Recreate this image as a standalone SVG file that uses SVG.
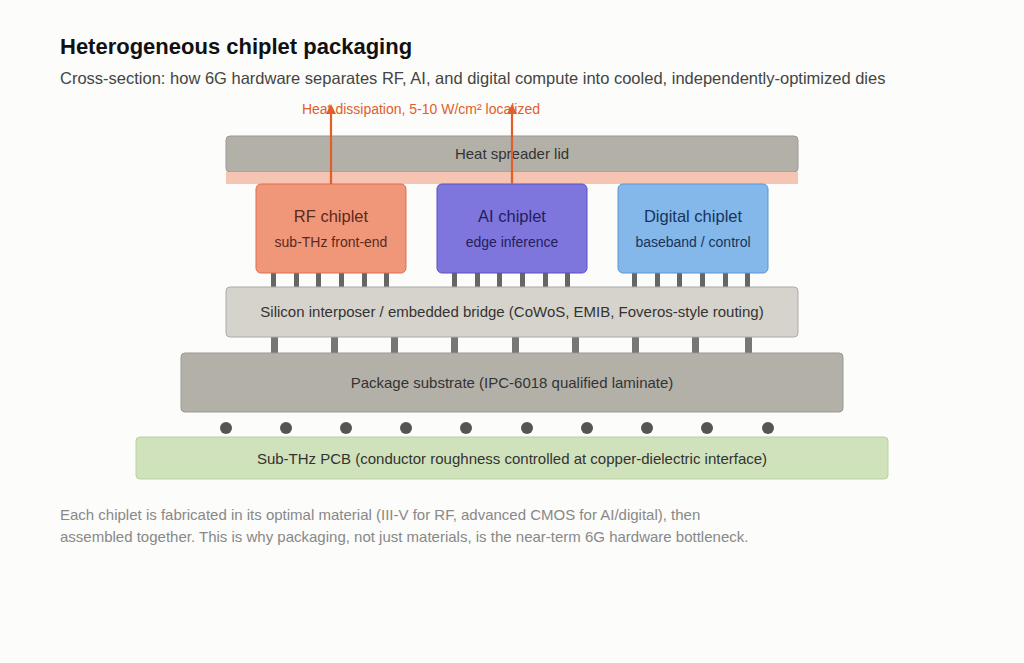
<svg xmlns="http://www.w3.org/2000/svg" width="1024" height="663" viewBox="0 0 1024 663">
<defs>
<style>
text{font-family:"Liberation Sans",Arial,sans-serif}
.lbl{font-size:15px;fill:#333;text-anchor:middle}
.bump{fill:#666}
.title{font-size:16.5px;text-anchor:middle}
.sub{font-size:14px;text-anchor:middle}
</style>
<marker id="ah" markerWidth="10" markerHeight="10" refX="5" refY="5" orient="auto" markerUnits="userSpaceOnUse"><path d="M0,0 L10,5 L0,10 z" fill="#e0602c"/></marker>
</defs>
<rect width="1024" height="663" fill="#fcfcfa"/>
<text x="60" y="54" font-size="22" font-weight="bold" fill="#111">Heterogeneous chiplet packaging</text>
<text x="60" y="84" font-size="16.5" fill="#444">Cross-section: how 6G hardware separates RF, AI, and digital compute into cooled, independently-optimized dies</text>
<g id="lid"><rect x="226" y="136" width="572" height="36" rx="4" fill="#b3b0a8" stroke="#999" stroke-width="1"/><text class="lbl" x="512" y="159">Heat spreader lid</text></g>
<rect id="tim" x="226" y="172" width="572" height="12" fill="#f5c4b2"/>
<g id="bumps">
<g class="bump">
<rect x="271" y="273" width="5" height="14"/><rect x="294" y="273" width="5" height="14"/><rect x="316" y="273" width="5" height="14"/><rect x="339" y="273" width="5" height="14"/><rect x="362" y="273" width="5" height="14"/><rect x="384" y="273" width="5" height="14"/>
<rect x="452" y="273" width="5" height="14"/><rect x="475" y="273" width="5" height="14"/><rect x="497" y="273" width="5" height="14"/><rect x="520" y="273" width="5" height="14"/><rect x="543" y="273" width="5" height="14"/><rect x="565" y="273" width="5" height="14"/>
<rect x="632" y="273" width="5" height="14"/><rect x="655" y="273" width="5" height="14"/><rect x="677" y="273" width="5" height="14"/><rect x="700" y="273" width="5" height="14"/><rect x="723" y="273" width="5" height="14"/><rect x="745" y="273" width="5" height="14"/>
</g>
<g fill="#777">
<rect x="271" y="337" width="7" height="16"/><rect x="331" y="337" width="7" height="16"/><rect x="391" y="337" width="7" height="16"/><rect x="451" y="337" width="7" height="16"/><rect x="512" y="337" width="7" height="16"/><rect x="572" y="337" width="7" height="16"/><rect x="632" y="337" width="7" height="16"/><rect x="692" y="337" width="7" height="16"/><rect x="745" y="337" width="7" height="16"/>
</g>
<g fill="#555">
<circle cx="226" cy="428" r="6"/><circle cx="286" cy="428" r="6"/><circle cx="346" cy="428" r="6"/><circle cx="406" cy="428" r="6"/><circle cx="466" cy="428" r="6"/><circle cx="527" cy="428" r="6"/><circle cx="587" cy="428" r="6"/><circle cx="647" cy="428" r="6"/><circle cx="707" cy="428" r="6"/><circle cx="768" cy="428" r="6"/>
</g>
</g>
<g id="rf"><rect x="256" y="184" width="150" height="89" rx="5" fill="#f0977a" stroke="#d9704e"/><text class="title" x="331" y="222" fill="#5a2a1a">RF chiplet</text><text class="sub" x="331" y="247" fill="#5a2a1a">sub-THz front-end</text></g>
<g id="ai"><rect x="437" y="184" width="150" height="89" rx="5" fill="#7f76dd" stroke="#5a4fc0"/><text class="title" x="512" y="222" fill="#231d5c">AI chiplet</text><text class="sub" x="512" y="247" fill="#231d5c">edge inference</text></g>
<g id="digital"><rect x="618" y="184" width="150" height="89" rx="5" fill="#84b7ea" stroke="#5a95d4"/><text class="title" x="693" y="222" fill="#16345c">Digital chiplet</text><text class="sub" x="693" y="247" fill="#16345c">baseband / control</text></g>
<g id="interposer"><rect x="226" y="287" width="572" height="50" rx="4" fill="#d5d3cb" stroke="#aaa"/><text class="lbl" x="512" y="317">Silicon interposer / embedded bridge (CoWoS, EMIB, Foveros-style routing)</text></g>
<g id="substrate"><rect x="181" y="353" width="662" height="59" rx="4" fill="#b3b0a8" stroke="#999"/><text class="lbl" x="512" y="388">Package substrate (IPC-6018 qualified laminate)</text></g>
<g id="pcb"><rect x="136" y="437" width="752" height="42" rx="4" fill="#d0e2bb" stroke="#b6d39c"/><text class="lbl" x="512" y="464" fill="#2a3d1a">Sub-THz PCB (conductor roughness controlled at copper-dielectric interface)</text></g>
<g id="connectors" stroke="#e0602c" stroke-width="2.2" fill="none">
<line x1="331" y1="184" x2="331" y2="109" marker-end="url(#ah)"/>
<line x1="512" y1="184" x2="512" y2="109" marker-end="url(#ah)"/>
</g>
<text x="421" y="114" font-size="14" fill="#e0602c" text-anchor="middle">Heat dissipation, 5-10 W/cm² localized</text>
<text x="60" y="520" font-size="15" fill="#888">Each chiplet is fabricated in its optimal material (III-V for RF, advanced CMOS for AI/digital), then</text>
<text x="60" y="542" font-size="15" fill="#888">assembled together. This is why packaging, not just materials, is the near-term 6G hardware bottleneck.</text>
</svg>
